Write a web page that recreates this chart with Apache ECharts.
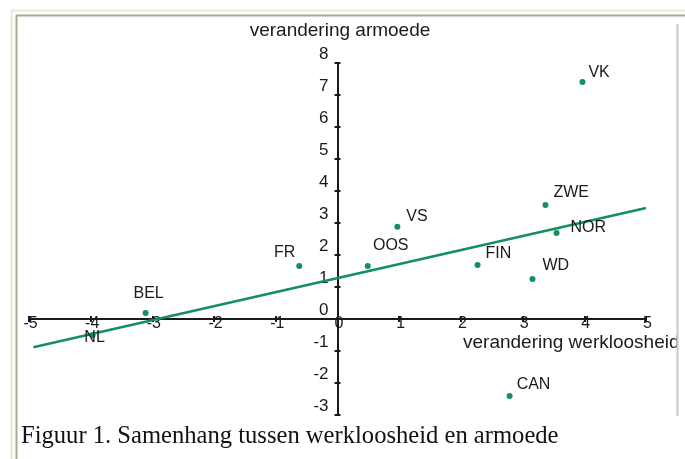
<!DOCTYPE html>
<html><head><meta charset="utf-8">
<script src="https://cdn.jsdelivr.net/npm/echarts@6/dist/echarts.min.js"></script>
<style>html,body{margin:0;padding:0;background:#fff;}#c{width:685px;height:459px;}</style>
</head><body><div id="c"></div>
<script>
// Data
const countries = ['VK','ZWE','NOR','WD','FIN','VS','OOS','FR','BEL','NL','CAN'];
const unemploymentChange = [3.97, 3.37, 3.55, 3.16, 2.27, 0.97, 0.49, -0.62, -3.11, -3.97, 2.79];
const povertyChange      = [7.41, 3.56, 2.69, 1.25, 1.69, 2.88, 1.66, 1.66, 0.19, -0.50, -2.41];
const trendX = [-4.93, 5];
const trendY = [-0.88, 3.47];
const xTicks = [-5,-4,-3,-2,-1,0,1,2,3,4,5];
const yTicks = [-3,-2,-1,0,1,2,3,4,5,6,7,8];

const labelPos = {
  VK:  {position:'right', offset:[0,-9]},
  ZWE: {position:'right', offset:[2,-12]},
  NOR: {position:'right', offset:[8,-5]},
  WD:  {position:'right', offset:[4,-13]},
  FIN: {position:'right', offset:[2,-11]},
  VS:  {position:'right', offset:[3,-10]},
  OOS: {position:'top', offset:[23,-6]},
  FR:  {position:'left', offset:[2,-13]},
  BEL: {position:'top', offset:[3,-5]},
  NL:  {position:'inside', offset:[2,3]},
  CAN: {position:'right', offset:[1,-12]}
};

const green = '#12905e';
const ink = '#1a1a1a';
const sans = '"Liberation Sans", Arial, sans-serif';

const points = countries.map((c,i)=>({
  value:[unemploymentChange[i], povertyChange[i]],
  label:{show:true, formatter:c, color:ink, fontSize:16, fontFamily:sans,
         position:labelPos[c].position, offset:labelPos[c].offset, distance:3}
}));

const chart = echarts.init(document.getElementById('c'), null, {renderer:'canvas'});
const axisCommonX = {
  type:'value', min:xTicks[0], max:xTicks[xTicks.length-1], interval:1,
  splitLine:{show:false}
};
const axisCommonY = {
  type:'value', min:yTicks[0], max:yTicks[yTicks.length-1], interval:1,
  splitLine:{show:false}
};
const grid = {left:29, right:39, top:63, bottom:44, containLabel:false};
function buildOption(offs){
  return {
  animation:false,
  backgroundColor:'#fff',
  grid:grid,
  xAxis:[
    Object.assign({}, axisCommonX, {
      position:'bottom', offset:offs.xb,
      axisLine:{onZero:false, lineStyle:{color:ink, width:2}},
      axisTick:{show:true, length:3, lineStyle:{color:ink, width:2}},
      axisLabel:{margin:-3, color:ink, fontSize:16, fontFamily:sans, padding:[0,0,0,3]}
    }),
    Object.assign({}, axisCommonX, {
      position:'top', offset:offs.xt,
      axisLine:{show:false, onZero:false},
      axisTick:{show:true, length:3, lineStyle:{color:ink, width:2}},
      axisLabel:{show:false}
    })
  ],
  yAxis:[
    Object.assign({}, axisCommonY, {
      position:'left', offset:offs.yl,
      axisLine:{onZero:false, lineStyle:{color:ink, width:2}},
      axisTick:{show:true, length:3, lineStyle:{color:ink, width:2}},
      axisLabel:{margin:9, color:ink, fontSize:17, fontFamily:sans, verticalAlign:'bottom'}
    }),
    Object.assign({}, axisCommonY, {
      position:'right', offset:offs.yr,
      axisLine:{show:false, onZero:false},
      axisTick:{show:true, length:3, lineStyle:{color:ink, width:2}},
      axisLabel:{show:false}
    })
  ],
  series:[
    {type:'line', data:trendX.map((x,i)=>[x,trendY[i]]), showSymbol:false, symbol:'none',
     lineStyle:{color:green, width:2.5}, z:3, silent:true},
    {type:'scatter', data:points, symbolSize:6, itemStyle:{color:green, opacity:1}, z:4}
  ],
  graphic:[
    {type:'text', style:{x:340, y:31, text:'verandering armoede', fill:ink,
      font:'19px '+sans, textAlign:'center', textVerticalAlign:'middle'}, z:10},
    {type:'text', style:{x:463, y:343, text:'verandering werkloosheid', fill:ink,
      font:'19px '+sans, textAlign:'left', textVerticalAlign:'middle'}, z:10},
    {type:'rect', shape:{x:677, y:17, width:8, height:442}, style:{fill:'#fff'}, z:20},
    {type:'line', shape:{x1:677.5, y1:24, x2:677.5, y2:416}, style:{stroke:'#c8c8c8', lineWidth:2}, z:21},
    {type:'line', shape:{x1:11, y1:10.5, x2:685, y2:10.5}, style:{stroke:'#ece9d8', lineWidth:2}, z:21},
    {type:'line', shape:{x1:11.5, y1:10, x2:11.5, y2:459}, style:{stroke:'#ece9d8', lineWidth:2}, z:21},
    {type:'line', shape:{x1:16, y1:15.5, x2:685, y2:15.5}, style:{stroke:'#aca899', lineWidth:2}, z:21},
    {type:'line', shape:{x1:16.5, y1:15, x2:16.5, y2:459}, style:{stroke:'#aca899', lineWidth:2}, z:21},
    {type:'text', style:{x:21, y:437, text:'Figuur 1. Samenhang tussen werkloosheid en armoede', fill:'#111',
      font:'24.6px "Liberation Serif", "Times New Roman", serif', textAlign:'left', textVerticalAlign:'middle'}, z:21}
  ]
  };
}
chart.setOption(buildOption({xb:0, xt:0, yl:0, yr:0}));
// Place axes so they cross at the data origin
const o = chart.convertToPixel({gridIndex:0}, [0,0]);
const lt = chart.convertToPixel({gridIndex:0}, [xTicks[0], yTicks[yTicks.length-1]]);
const rb = chart.convertToPixel({gridIndex:0}, [xTicks[xTicks.length-1], yTicks[0]]);
chart.setOption(buildOption({
  xb: -(rb[1]-o[1]),
  xt: -(o[1]-lt[1]),
  yl: -(o[0]-lt[0]),
  yr: -(rb[0]-o[0])
}));
</script></body></html>
